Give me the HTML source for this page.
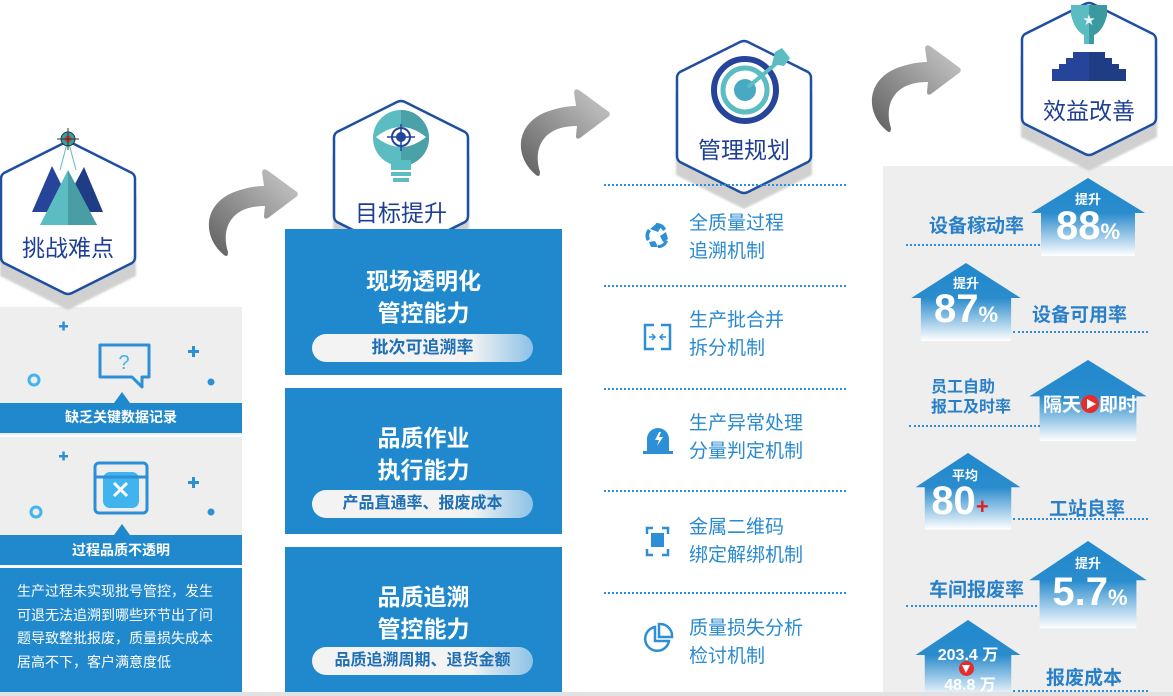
<!DOCTYPE html>
<html><head><meta charset="utf-8"><style>
*{margin:0;padding:0;box-sizing:border-box}
body{width:1173px;height:696px;position:relative;overflow:hidden;background:#fff;font-family:"Liberation Sans","Noto Sans CJK SC",sans-serif}
.a{position:absolute}
.t{position:absolute;white-space:nowrap}
.hexlab{position:absolute;width:140px;text-align:center;color:#1e3f95;font-size:23px}
.bluebox{position:absolute;left:285px;width:277px;background:#2089cd;color:#fff;text-align:center}
.bluebox .h{font-size:23px;font-weight:bold;line-height:32px}
.pill{position:absolute;left:27px;width:221px;height:28px;border-radius:14px;background:linear-gradient(90deg,#f3f3f3 0%,#f3f3f3 72%,#8cc2e6 100%);color:#1f6fb5;font-size:17px;font-weight:bold;line-height:28px}
.dl{position:absolute;border-top:2px dotted #2d8fd5}
.mt{position:absolute;left:689px;color:#2a8ad0;font-size:19px;line-height:28px}
.lab{position:absolute;color:#2a80c8;font-weight:bold;font-size:19px;white-space:nowrap}
.hn{position:absolute;color:#fff;font-weight:bold;text-align:center}
</style></head><body>

<svg class="a" style="left:0;top:0" width="1173" height="696">
<defs>
<linearGradient id="ag" x1="0" y1="1" x2="1" y2="0"><stop offset="0" stop-color="#5e5e5e"/><stop offset="1" stop-color="#cccccc"/></linearGradient>
<linearGradient id="hg" x1="0" y1="0" x2="0" y2="1"><stop offset="0" stop-color="#2089cd"/><stop offset="0.45" stop-color="#2a8ccd"/><stop offset="1" stop-color="#ffffff"/></linearGradient>
<filter id="sh"><feGaussianBlur stdDeviation="1"/></filter>
<g id="arr">
<path d="M224,255 C200,235 204,200 240,190 C250,187 258,186 264,186 L262,172 Q263,168 267,170 L297,192 Q299,195 296,197 L268,218 Q264,220 264,216 L265,206 C250,206 238,210 231,220 C224,230 225,243 228,252 Q228,258 224,255 Z" fill="url(#ag)"/>
</g>
<g id="hx">
<path d="M70,18 L138,52 L138,132 L70,166 L2,132 L2,52 Z" fill="#d0d0d0" transform="translate(0,4)" filter="url(#sh)"/>
<path d="M66,3 Q70,1 74,3 L134,33 Q137,35 137,39 L137,117 Q137,121 134,123 L74,153 Q70,155 66,153 L6,123 Q3,121 3,117 L3,39 Q3,35 6,33 Z" fill="#fff" stroke="#1e4fa0" stroke-width="2.5"/>
</g>
<g id="house"><polygon points="0,0 57,35 47,35 47,78 -47,78 -47,35 -57,35" fill="url(#hg)"/></g>
</defs>
<use href="#arr"/>
<use href="#arr" transform="translate(312,-80)"/>
<use href="#arr" transform="translate(663,-124)"/>

<rect x="883" y="166" width="290" height="530" fill="#eeeeee"/>
<rect x="0" y="307" width="242" height="128" fill="#eeeeee"/>
<rect x="0" y="437" width="242" height="128" fill="#eeeeee"/>
<rect x="0" y="403" width="242" height="30" fill="#2089cd"/>
<rect x="0" y="535" width="242" height="30" fill="#2089cd"/>
<rect x="0" y="568" width="242" height="125" fill="#2089cd"/>
<polygon points="114,403 122,392 130,403" fill="#2089cd"/>
<polygon points="114,535 122,524 130,535" fill="#2089cd"/>
<g fill="#2d8fd5">
<rect x="59" y="325" width="9" height="2.5"/><rect x="62.3" y="321.5" width="2.5" height="9"/>
<rect x="188" y="350" width="11" height="3"/><rect x="192" y="346" width="3" height="11"/>
<circle cx="211" cy="382" r="3.5"/>
<rect x="59" y="455" width="9" height="2.5"/><rect x="62.3" y="451.5" width="2.5" height="9"/>
<rect x="188" y="481" width="11" height="3"/><rect x="192" y="477" width="3" height="11"/>
<circle cx="211" cy="512" r="3.5"/>
</g>
<circle cx="34" cy="380" r="5" fill="none" stroke="#3fb4ee" stroke-width="3"/>
<circle cx="36" cy="512" r="5" fill="none" stroke="#3fb4ee" stroke-width="3"/>
<path d="M100,345 h49 v32 h-7 v10 l-10,-10 h-32 z" fill="none" stroke="#2d8fd5" stroke-width="3" stroke-linejoin="round"/>
<text x="124" y="369" font-size="20" fill="#3fb4ee" text-anchor="middle" font-family="Liberation Sans">?</text>
<rect x="95" y="463" width="52" height="50" rx="4" fill="none" stroke="#2d8fd5" stroke-width="3"/>
<rect x="103" y="472" width="36" height="36" rx="7" fill="#3fb4ee"/>
<line x1="95" y1="477" x2="147" y2="477" stroke="#2d8fd5" stroke-width="3"/>
<path d="M114,483 l13,13 M127,483 l-13,13" stroke="#fff" stroke-width="3"/>

<use href="#hx" transform="translate(-2,140)"/>
<use href="#hx" transform="translate(331,99)"/>
<use href="#hx" transform="translate(674,39)"/>
<use href="#hx" transform="translate(1019,1)"/>

<polygon points="32,212 52,166 75,212" fill="#25449a"/>
<polygon points="60,212 84,167 103,212" fill="#1e3d85"/>
<polygon points="40,225 68,170 97,225" fill="#5bbcc2"/>
<polygon points="68,170 97,225 68,225" fill="#489ea4"/>
<line x1="68" y1="140" x2="60" y2="170" stroke="#5bbcc2" stroke-width="1"/><line x1="68" y1="140" x2="76" y2="170" stroke="#5bbcc2" stroke-width="1"/>
<circle cx="68" cy="139" r="7" fill="#2aa5a5" stroke="#333" stroke-width="1"/><circle cx="68" cy="139" r="3.5" fill="#d33"/>
<line x1="57" y1="139" x2="79" y2="139" stroke="#333"/><line x1="68" y1="128" x2="68" y2="150" stroke="#333"/>

<circle cx="401" cy="138" r="28" fill="#5bbcc2"/>
<path d="M401,110 A28,28 0 0 1 401,166 Z" fill="#4aa2a8"/>
<rect x="391" y="160" width="20" height="10" fill="#5bbcc2"/>
<rect x="391" y="172" width="20" height="4" fill="#5bbcc2"/><rect x="393" y="178" width="16" height="4" fill="#5bbcc2"/>
<path d="M376,137 Q401,117 426,137 Q401,157 376,137 Z" fill="#fff"/>
<circle cx="401" cy="137" r="9" fill="none" stroke="#25449a" stroke-width="2"/><circle cx="401" cy="137" r="5" fill="#25449a"/>
<line x1="387" y1="137" x2="415" y2="137" stroke="#25449a" stroke-width="1.5"/><line x1="401" y1="124" x2="401" y2="151" stroke="#25449a" stroke-width="1.5"/>

<circle cx="745" cy="90" r="31" fill="none" stroke="#25449a" stroke-width="6"/>
<circle cx="745" cy="90" r="22" fill="none" stroke="#5bbcc2" stroke-width="5"/>
<circle cx="745" cy="90" r="11" fill="#48a9c2"/>
<line x1="748" y1="87" x2="778" y2="62" stroke="#5bbcc2" stroke-width="4"/>
<polygon points="775,52 782,48 790,58 784,66 772,64" fill="#5bbcc2"/>

<path d="M1071,5 h36 v10 q-4,16 -13,20 v9 h-10 v-9 q-9,-4 -13,-20 z" fill="#5bbcc2"/>
<path d="M1089,5 h18 v10 q-4,16 -13,20 v9 h-5 z" fill="#3a9aa0"/>
<text x="1089" y="24" font-size="12" fill="#e8f6f6" text-anchor="middle">★</text>
<polygon points="1052,81 1052,69 1059,69 1059,64 1066,64 1066,58 1073,58 1073,52 1105,52 1105,58 1112,58 1112,64 1119,64 1119,69 1126,69 1126,81" fill="#25449a"/>
<polygon points="1089,52 1105,52 1105,58 1112,58 1112,64 1119,64 1119,69 1126,69 1126,81 1089,81" fill="#1e3d85"/>

<use href="#house" transform="translate(1088,178)"/>
<use href="#house" transform="translate(966,263) scale(0.96,1.0)"/>
<use href="#house" transform="translate(1088,360) scale(1.03,1.04)"/>
<use href="#house" transform="translate(968,453) scale(0.92,0.98)"/>
<use href="#house" transform="translate(1088,541) scale(1.03,1.12)"/>
<use href="#house" transform="translate(968,620) scale(0.92,1.0)"/>

<g fill="none" stroke="#2d8fd5" stroke-width="2.5">
<path d="M654,325 h-9 v24 h9 M661,325 h9 v24 h-9"/>
<path d="M649,337 h5 M652,334 l3,3 -3,3 M666,337 h-5 M663,334 l-3,3 3,3" stroke-width="1.5"/>
<path d="M647,534 v-6 h6 M662,528 h6 v6 M668,549 v6 h-6 M653,555 h-6 v-6"/>
<path d="M655,627 A12,12 0 1 0 669,641 L655,641 Z"/>
<path d="M659,624 A12,12 0 0 1 672,637 L659,637 Z"/>
</g>
<rect x="651" y="533" width="13" height="14" fill="#2d8fd5"/>
<path d="M647,451 v-12 a11,11 0 0 1 22,0 v12 z" fill="#2d8fd5"/>
<rect x="643" y="451" width="30" height="3" fill="#2d8fd5"/>
<path d="M659,432 l-4,8 h4 l-2,6 6,-9 h-4 l2,-5z" fill="#fff"/>
<g fill="#2d8fd5">
<path d="M650,229 l6,-5 5,3 -3,5 z M666,232 l2,7 -5,3 -3,-6 z M658,247 l-7,0 -2,-5 6,-1 z"/>
<path d="M656,223 a10,10 0 0 1 10,6 l-3,2 a7,7 0 0 0 -8,-4 z M668,241 a10,10 0 0 1 -10,7 l0,-3 a7,7 0 0 0 7,-5 z M647,241 a10,10 0 0 1 1,-12 l3,2 a7,7 0 0 0 -1,8 z"/>
</g>
</svg>

<div class="hexlab" style="left:-2px;top:229px">挑战难点</div>
<div class="hexlab" style="left:331px;top:194px">目标提升</div>
<div class="hexlab" style="left:674px;top:131px">管理规划</div>
<div class="hexlab" style="left:1019px;top:92px">效益改善</div>

<div class="t" style="left:0;width:242px;top:407px;text-align:center;color:#fff;font-size:14px;font-weight:bold">缺乏关键数据记录</div>
<div class="t" style="left:0;width:242px;top:540px;text-align:center;color:#fff;font-size:14px;font-weight:bold">过程品质不透明</div>
<div class="a" style="left:17px;top:580px;width:225px;color:#fff;font-size:14px;line-height:23.5px;white-space:nowrap">生产过程未实现批号管控，发生<br>可退无法追溯到哪些环节出了问<br>题导致整批报废，质量损失成本<br>居高不下，客户满意度低</div>

<div class="bluebox" style="top:229px;height:146px"><div class="h" style="margin-top:36px">现场透明化<br>管控能力</div><div class="pill" style="top:105px">批次可追溯率</div></div>
<div class="bluebox" style="top:388px;height:146px"><div class="h" style="margin-top:34px">品质作业<br>执行能力</div><div class="pill" style="top:102px;font-size:16px">产品直通率、报废成本</div></div>
<div class="bluebox" style="top:547px;height:146px"><div class="h" style="margin-top:34px">品质追溯<br>管控能力</div><div class="pill" style="top:100px;font-size:16px">品质追溯周期、退货金额</div></div>

<div class="dl" style="left:604px;top:184px;width:242px"></div>
<div class="dl" style="left:604px;top:285px;width:242px"></div>
<div class="dl" style="left:604px;top:388px;width:242px"></div>
<div class="dl" style="left:604px;top:490px;width:242px"></div>
<div class="dl" style="left:604px;top:592px;width:242px"></div>
<div class="dl" style="left:604px;top:693px;width:242px"></div>
<div class="mt" style="top:210px">全质量过程<br>追溯机制</div>
<div class="mt" style="top:307px">生产批合并<br>拆分机制</div>
<div class="mt" style="top:410px">生产异常处理<br>分量判定机制</div>
<div class="mt" style="top:514px">金属二维码<br>绑定解绑机制</div>
<div class="mt" style="top:615px">质量损失分析<br>检讨机制</div>

<div class="lab" style="left:929px;top:211px">设备稼动率</div>
<div class="dl" style="left:906px;top:244px;width:134px"></div>
<div class="lab" style="left:1032px;top:300px">设备可用率</div>
<div class="dl" style="left:1013px;top:331px;width:135px"></div>
<div class="lab" style="left:931px;top:378px;font-size:16px;line-height:20px">员工自助<br>报工及时率</div>
<div class="dl" style="left:909px;top:425px;width:131px"></div>
<div class="lab" style="left:1049px;top:494px">工站良率</div>
<div class="dl" style="left:1013px;top:518px;width:135px"></div>
<div class="lab" style="left:929px;top:575px">车间报废率</div>
<div class="dl" style="left:906px;top:605px;width:131px"></div>
<div class="lab" style="left:1046px;top:663px">报废成本</div>
<div class="dl" style="left:1013px;top:690px;width:135px"></div>

<div class="hn" style="left:1040px;width:96px;top:189px;font-size:13px">提升</div>
<div class="hn" style="left:1040px;width:96px;top:203px;font-size:40px;line-height:46px">88<span style="font-size:22px">%</span></div>
<div class="hn" style="left:918px;width:96px;top:273px;font-size:13px">提升</div>
<div class="hn" style="left:918px;width:96px;top:286px;font-size:40px;line-height:46px">87<span style="font-size:22px">%</span></div>
<div class="hn" style="left:1040px;width:100px;top:394px;font-size:19px;line-height:24px">隔天<span style="display:inline-block;width:18px;height:18px;border-radius:9px;background:#e52d2d;vertical-align:-2px;position:relative"><span style="position:absolute;left:6px;top:4px;border-left:9px solid #fff;border-top:5px solid transparent;border-bottom:5px solid transparent"></span></span>即时</div>
<div class="hn" style="left:920px;width:90px;top:465px;font-size:13px">平均</div>
<div class="hn" style="left:915px;width:90px;top:478px;font-size:40px;line-height:46px">80<span style="color:#e02020;font-size:22px">+</span></div>
<div class="hn" style="left:1040px;width:96px;top:553px;font-size:13px">提升</div>
<div class="hn" style="left:1040px;width:100px;top:569px;font-size:40px;line-height:46px">5.7<span style="font-size:22px">%</span></div>
<div class="hn" style="left:918px;width:100px;top:641px;font-size:16px">203.4 万</div>
<div class="a" style="left:959px;top:661px;width:15px;height:15px;border-radius:8px;background:#e52d2d"><div style="position:absolute;left:3px;top:4px;border-top:8px solid #fff;border-left:4.5px solid transparent;border-right:4.5px solid transparent"></div></div>
<div class="hn" style="left:920px;width:100px;top:671px;font-size:16px">48.8 万</div>

<div class="a" style="left:0;top:692px;width:1173px;height:4px;background:#e2e2e2"></div>
</body></html>
